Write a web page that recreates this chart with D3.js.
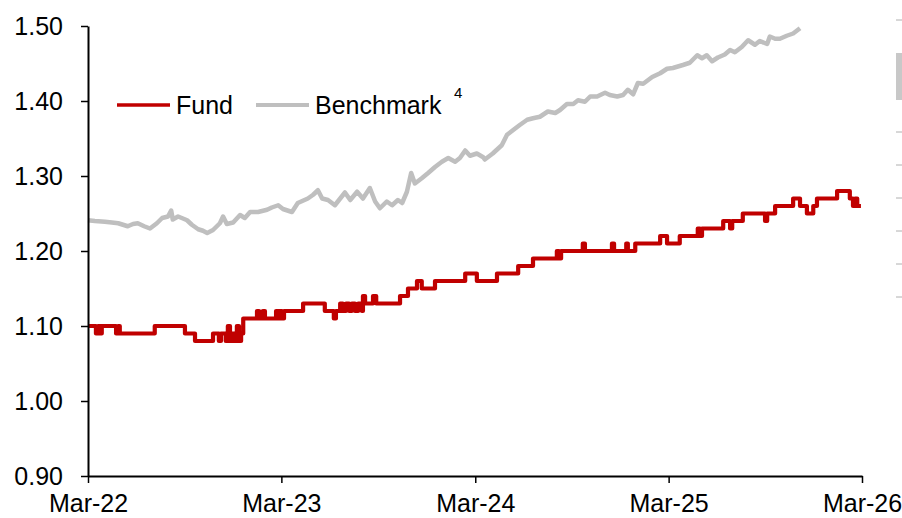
<!DOCTYPE html>
<html>
<head>
<meta charset="utf-8">
<script src="https://cdn.jsdelivr.net/npm/d3@7"></script>
<style>
  html, body { margin: 0; padding: 0; background: #fff; }
  svg { display: block; font-family: "Liberation Sans", Arial, sans-serif; }
</style>
</head>
<body>
<svg id="chart" width="902" height="518"></svg>
<script>
// ---------- DATA ----------
const seriesNames = ["Fund", "Benchmark"];
const xTickLabels = ["Mar-22", "Mar-23", "Mar-24", "Mar-25", "Mar-26"];
const xTickDates = ["2022-03-31", "2023-03-31", "2024-03-31", "2025-03-31", "2026-03-31"];
const yTickValues = [0.90, 1.00, 1.10, 1.20, 1.30, 1.40, 1.50];

// Fund (step series: date at which the value changes)
const fundDates = [
  "2022-03-31","2022-04-15","2022-04-19","2022-04-23","2022-04-26","2022-05-23","2022-05-27","2022-05-30",
  "2022-08-04","2022-09-30","2022-10-19","2022-11-22","2022-12-03","2022-12-07","2022-12-16","2022-12-20",
  "2022-12-24","2022-12-28","2023-01-02","2023-01-06","2023-01-10","2023-01-14","2023-01-18","2023-02-13",
  "2023-02-17","2023-02-24","2023-02-28","2023-03-21","2023-03-25","2023-03-28","2023-04-01","2023-04-05",
  "2023-05-11","2023-06-21","2023-07-08","2023-07-12","2023-07-20","2023-07-25","2023-07-31","2023-08-06",
  "2023-08-11","2023-08-17","2023-08-23","2023-08-30","2023-09-01","2023-09-05","2023-09-20","2023-09-26",
  "2023-11-10","2023-11-25","2023-12-12","2023-12-21","2024-01-15","2024-03-12","2024-04-03","2024-05-11",
  "2024-06-20","2024-07-18","2024-09-01","2024-09-05","2024-09-09","2024-10-20","2024-10-24","2024-12-14",
  "2024-12-18","2025-01-10","2025-01-13","2025-01-27","2025-03-15","2025-03-28","2025-04-21","2025-05-25",
  "2025-05-29","2025-06-02","2025-07-12","2025-07-25","2025-07-29","2025-08-18","2025-09-29","2025-10-03",
  "2025-10-18","2025-11-21","2025-12-04","2025-12-17","2025-12-29","2026-01-05","2026-02-12","2026-03-08",
  "2026-03-14","2026-03-18","2026-03-22","2026-03-29"
];
const fundValues = [
  1.10,1.09,1.10,1.09,1.10,1.09,1.10,1.09,
  1.10,1.09,1.08,1.09,1.08,1.09,1.08,1.10,
  1.08,1.09,1.08,1.10,1.08,1.09,1.11,1.12,
  1.11,1.12,1.11,1.12,1.11,1.12,1.11,1.12,
  1.13,1.12,1.11,1.12,1.13,1.12,1.13,1.12,
  1.13,1.12,1.13,1.12,1.14,1.13,1.14,1.13,
  1.14,1.15,1.16,1.15,1.16,1.17,1.16,1.17,
  1.18,1.19,1.20,1.19,1.20,1.21,1.20,1.21,
  1.20,1.21,1.20,1.21,1.22,1.21,1.22,1.23,
  1.22,1.23,1.24,1.23,1.24,1.25,1.24,1.25,
  1.26,1.27,1.26,1.25,1.26,1.27,1.28,1.27,
  1.26,1.27,1.26,1.26
];

// Benchmark
const benchDates = [
  "2022-03-31","2022-04-13","2022-05-02","2022-05-15","2022-05-27","2022-06-05","2022-06-14","2022-06-24",
  "2022-07-03","2022-07-15","2022-07-26","2022-08-08","2022-08-18","2022-08-29","2022-09-04","2022-09-07",
  "2022-09-17","2022-09-24","2022-10-04","2022-10-13","2022-10-25","2022-11-03","2022-11-11","2022-11-22",
  "2022-12-05","2022-12-11","2022-12-18","2022-12-30","2023-01-12","2023-01-21","2023-01-31","2023-02-15",
  "2023-03-04","2023-03-13","2023-03-25","2023-04-03","2023-04-20","2023-05-01","2023-05-20","2023-05-30",
  "2023-06-08","2023-06-16","2023-06-27","2023-07-10","2023-07-29","2023-08-08","2023-08-21","2023-09-01",
  "2023-09-14","2023-09-24","2023-10-03","2023-10-16","2023-10-26","2023-11-06","2023-11-14","2023-11-23",
  "2023-12-01","2023-12-08","2023-12-21","2024-01-02","2024-01-15","2024-01-28","2024-02-09","2024-02-22",
  "2024-03-02","2024-03-12","2024-03-21","2024-04-03","2024-04-15","2024-04-18","2024-05-03","2024-05-20",
  "2024-05-30","2024-06-10","2024-06-23","2024-07-07","2024-07-18","2024-07-31","2024-08-15","2024-08-29",
  "2024-09-07","2024-09-20","2024-10-02","2024-10-11","2024-10-24","2024-11-03","2024-11-16","2024-12-01",
  "2024-12-10","2024-12-24","2025-01-04","2025-01-13","2025-01-23","2025-02-01","2025-02-11","2025-02-28",
  "2025-03-15","2025-03-28","2025-04-08","2025-04-27","2025-05-10","2025-05-24","2025-06-02","2025-06-11",
  "2025-06-21","2025-07-02","2025-07-15","2025-07-25","2025-08-03","2025-08-16","2025-08-28","2025-09-10",
  "2025-09-19","2025-10-03","2025-10-08","2025-10-18","2025-10-27","2025-11-09","2025-11-21","2025-12-04"
];
const benchValues = [
  1.241,1.240,1.239,1.238,1.237,1.235,1.233,1.236,
  1.237,1.233,1.230,1.237,1.244,1.246,1.254,1.242,
  1.246,1.244,1.241,1.235,1.229,1.227,1.224,1.228,
  1.237,1.246,1.236,1.238,1.248,1.244,1.252,1.252,
  1.255,1.258,1.261,1.256,1.252,1.264,1.270,1.275,
  1.281,1.270,1.268,1.261,1.278,1.268,1.279,1.270,
  1.284,1.266,1.257,1.266,1.261,1.268,1.264,1.279,
  1.304,1.290,1.297,1.304,1.312,1.319,1.324,1.319,
  1.324,1.334,1.327,1.330,1.325,1.322,1.330,1.341,
  1.355,1.361,1.368,1.375,1.377,1.379,1.386,1.384,
  1.388,1.396,1.396,1.401,1.399,1.406,1.406,1.411,
  1.408,1.406,1.408,1.415,1.409,1.424,1.423,1.432,
  1.437,1.443,1.444,1.448,1.451,1.461,1.457,1.461,
  1.453,1.458,1.462,1.468,1.465,1.472,1.481,1.475,
  1.480,1.476,1.486,1.483,1.483,1.487,1.490,1.497
];

// ---------- CHART ----------
const parse = d3.timeParse("%Y-%m-%d");
const fund = fundDates.map((d, i) => ({ date: parse(d), value: fundValues[i] }));
const bench = benchDates.map((d, i) => ({ date: parse(d), value: benchValues[i] }));

const svg = d3.select("#chart");
const x = d3.scaleTime()
  .domain([parse(xTickDates[0]), parse(xTickDates[xTickDates.length - 1])])
  .range([88, 862]);
const y = d3.scaleLinear().domain([0.9, 1.5]).range([476, 26]);

const FONT = 25;

// Benchmark line
svg.append("path")
  .datum(bench)
  .attr("fill", "none")
  .attr("stroke", "#bfbfbf")
  .attr("stroke-width", 4.5)
  .attr("stroke-linejoin", "round")
  .attr("d", d3.line().x(d => x(d.date)).y(d => y(d.value)));

// Fund line (step)
svg.append("path")
  .datum(fund)
  .attr("fill", "none")
  .attr("stroke", "#c00000")
  .attr("stroke-width", 4.2)
  .attr("stroke-linejoin", "round")
  .attr("d", d3.line().curve(d3.curveStepAfter).x(d => x(d.date)).y(d => y(d.value)));

// Y axis
const yAxis = svg.append("g")
  .attr("transform", `translate(${x.range()[0]},0)`)
  .call(d3.axisLeft(y).tickValues(yTickValues).tickFormat(d3.format(".2f")).tickSize(7).tickPadding(18).tickSizeOuter(0));
yAxis.select(".domain").attr("stroke", "#000").attr("stroke-width", 2);
yAxis.selectAll(".tick line").attr("stroke", "#000").attr("stroke-width", 1.5);
yAxis.selectAll(".tick text").attr("font-size", FONT).attr("fill", "#000")
  .attr("font-family", "'Liberation Sans', Arial, sans-serif");

// X axis
const xAxis = svg.append("g")
  .attr("transform", `translate(0,${y.range()[0]})`)
  .call(d3.axisBottom(x)
    .tickValues(xTickDates.map(parse))
    .tickFormat((d, i) => xTickLabels[i])
    .tickSize(7).tickPadding(11).tickSizeOuter(0));
xAxis.select(".domain").attr("stroke", "#000").attr("stroke-width", 2);
xAxis.selectAll(".tick line").attr("stroke", "#000").attr("stroke-width", 1.5);
xAxis.selectAll(".tick text").attr("font-size", FONT).attr("fill", "#000")
  .attr("font-family", "'Liberation Sans', Arial, sans-serif");

// Legend
const legend = svg.append("g");
const legendItems = [
  { name: seriesNames[0], color: "#c00000", x0: 117, width: 3.5 },
  { name: seriesNames[1], color: "#bfbfbf", x0: 256, width: 4 }
];
legendItems.forEach(it => {
  legend.append("line")
    .attr("x1", it.x0).attr("x2", it.x0 + 53)
    .attr("y1", 105).attr("y2", 105)
    .attr("stroke", it.color).attr("stroke-width", it.width);
  legend.append("text")
    .attr("x", it.x0 + 59).attr("y", 114)
    .attr("font-size", FONT).attr("fill", "#000")
    .text(it.name);
});
legend.append("text")
  .attr("x", 454).attr("y", 98)
  .attr("font-size", 15).attr("fill", "#000")
  .text("4");

// Right-edge remnants of neighbouring graphic
const edge = svg.append("g");
[20, 132, 165, 198, 231, 264, 297].forEach(v => {
  edge.append("line").attr("x1", 896).attr("x2", 902).attr("y1", v).attr("y2", v)
    .attr("stroke", "#b0b0b0").attr("stroke-width", 1);
});
edge.append("rect").attr("x", 896).attr("y", 53).attr("width", 6).attr("height", 47).attr("fill", "#c8c8c8");
</script>
</body>
</html>
